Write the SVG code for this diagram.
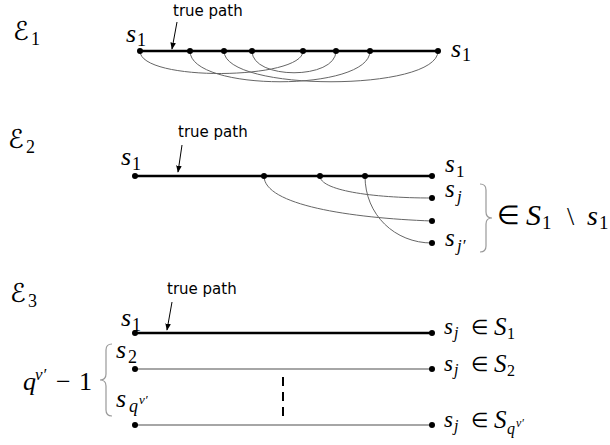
<svg xmlns="http://www.w3.org/2000/svg" width="610" height="445" viewBox="0 0 610 445">
<style>
.m{font-family:'Liberation Serif','Times New Roman',serif;font-style:italic;fill:#000}
.n{font-family:'Liberation Serif','Times New Roman',serif;font-style:normal;fill:#000}
.cal{font-family:'DejaVu Serif','DejaVu Sans',serif;font-style:italic;fill:#000}
.tp{font-family:'DejaVu Sans',Verdana,sans-serif;font-size:15px;fill:#000}
.thick{stroke:#000;stroke-width:2.5;fill:none}
.thin{stroke:#666;stroke-width:1;fill:none}
.gline{stroke:#888;stroke-width:1.5;fill:none}
.brace{stroke:#999;stroke-width:1.2;fill:none}
.arw{stroke:#000;stroke-width:1;fill:none;marker-end:url(#ah)}
</style>
<defs>
<marker id="ah" viewBox="0 0 10 10" refX="9" refY="5" markerWidth="7" markerHeight="7" orient="auto" markerUnits="userSpaceOnUse"><path d="M0,1 L10,5 L0,9 z" fill="#000"/></marker>
<circle id="dot" r="3" fill="#000"/>
</defs>

<g id="connectors">
<path class="thick" d="M140 51 H438"/>
<path class="thin" d="M140 51 C140 82 303 80 303 51"/>
<path class="thin" d="M190 51 C190 92 370 92 370 51"/>
<path class="thin" d="M224 51 C224 92 438 92 438 51"/>
<path class="thin" d="M252 51 C252 80 336 80 336 51"/>
<path class="thick" d="M135 176 H432"/>
<path class="thin" d="M264 176 C264 205 350 218 432 221"/>
<path class="thin" d="M320 176 C320 190 370 198 432 198"/>
<path class="thin" d="M365 176 C365 215 395 243 432 243"/>
<path class="thick" d="M135 333 H432"/>
<path class="gline" d="M135 369 H432"/>
<path class="gline" d="M135 425 H432"/>
<path d="M283 377 V417" stroke="#000" stroke-width="2" stroke-dasharray="9 6"/>
<path class="arw" d="M177 22 L172 49"/>
<path class="arw" d="M182 145 L178 172"/>
<path class="arw" d="M172 302 L167 330"/>
</g>

<g id="panel1">
<text class="cal" x="13" y="40" font-size="26">ℰ</text><text class="n" x="31" y="45" font-size="18">1</text>
<text class="tp" x="173" y="16">true path</text>
<g id="p1-nodes">
<use href="#dot" x="140" y="51"/><use href="#dot" x="190" y="51"/><use href="#dot" x="224" y="51"/><use href="#dot" x="252" y="51"/>
<use href="#dot" x="303" y="51"/><use href="#dot" x="336" y="51"/><use href="#dot" x="370" y="51"/><use href="#dot" x="438" y="51"/>
</g>
<text class="m" x="126" y="42" font-size="26">s</text><text class="n" x="137" y="46" font-size="18">1</text>
<text class="m" x="451" y="57" font-size="26">s</text><text class="n" x="462" y="61" font-size="18">1</text>
</g>

<g id="panel2">
<text class="cal" x="8" y="148" font-size="26">ℰ</text><text class="n" x="26" y="153" font-size="18">2</text>
<text class="tp" x="178" y="137">true path</text>
<g id="p2-nodes">
<use href="#dot" x="135" y="176"/><use href="#dot" x="264" y="176"/><use href="#dot" x="320" y="176"/><use href="#dot" x="365" y="176"/><use href="#dot" x="432" y="176"/>
<use href="#dot" x="432" y="198"/><use href="#dot" x="432" y="221"/><use href="#dot" x="432" y="243"/>
</g>
<text class="m" x="121" y="165" font-size="26">s</text><text class="n" x="132" y="170" font-size="18">1</text>
<text class="m" x="445" y="172" font-size="25">s</text><text class="n" x="456" y="177" font-size="17">1</text>
<text class="m" x="445" y="197" font-size="25">s</text><text class="m" x="457" y="202" font-size="17">j</text>
<text class="m" x="445" y="246" font-size="25">s</text><text class="m" x="457" y="251" font-size="17">j′</text>
<path class="brace" d="M480 184 Q486 184 486 190 L486 212 Q486 218 492 218 Q486 218 486 224 L486 246 Q486 252 480 252"/>
<text class="n" x="497" y="224" font-size="26">∈</text>
<text class="m" x="526" y="225" font-size="30">S</text><text class="n" x="542" y="229" font-size="19">1</text>
<text class="n" x="567" y="225" font-size="26">\</text>
<text class="m" x="587" y="225" font-size="28">s</text><text class="n" x="599" y="229" font-size="19">1</text>
</g>

<g id="panel3">
<text class="cal" x="10" y="302" font-size="26">ℰ</text><text class="n" x="28" y="307" font-size="18">3</text>
<text class="tp" x="167" y="294">true path</text>
<g id="p3-nodes">
<use href="#dot" x="135" y="333"/><use href="#dot" x="432" y="333"/>
<use href="#dot" x="135" y="369"/><use href="#dot" x="432" y="369"/>
<use href="#dot" x="135" y="425"/><use href="#dot" x="432" y="425"/>
</g>
<text class="m" x="121" y="326" font-size="26">s</text><text class="n" x="132" y="331" font-size="18">1</text>
<text class="m" x="116" y="358" font-size="26">s</text><text class="n" x="128" y="363" font-size="18">2</text>
<text class="m" x="116" y="407" font-size="26">s</text><text class="m" x="129" y="412" font-size="18">q</text><text class="m" x="139" y="404" font-size="13">v′</text>
<path class="brace" d="M112 344 Q106 344 106 350 L106 374 Q106 380 100 380 Q106 380 106 386 L106 410 Q106 416 112 416"/>
<text class="m" x="23" y="390" font-size="26">q</text><text class="m" x="35" y="380" font-size="17">v′</text>
<text class="n" x="56" y="390" font-size="26">−</text><text class="n" x="79" y="390" font-size="26">1</text>
<text class="m" x="444" y="334" font-size="23">s</text><text class="m" x="454" y="338" font-size="16">j</text>
<text class="n" x="471" y="334" font-size="20">∈</text><text class="m" x="494" y="335" font-size="25">S</text><text class="n" x="507" y="339" font-size="16">1</text>
<text class="m" x="444" y="371" font-size="23">s</text><text class="m" x="454" y="375" font-size="16">j</text>
<text class="n" x="471" y="371" font-size="20">∈</text><text class="m" x="494" y="372" font-size="25">S</text><text class="n" x="507" y="376" font-size="16">2</text>
<text class="m" x="444" y="427" font-size="23">s</text><text class="m" x="454" y="431" font-size="16">j</text>
<text class="n" x="471" y="427" font-size="20">∈</text><text class="m" x="494" y="428" font-size="25">S</text><text class="m" x="507" y="434" font-size="16">q</text><text class="m" x="516" y="427" font-size="12">v′</text>
</g>
</svg>
